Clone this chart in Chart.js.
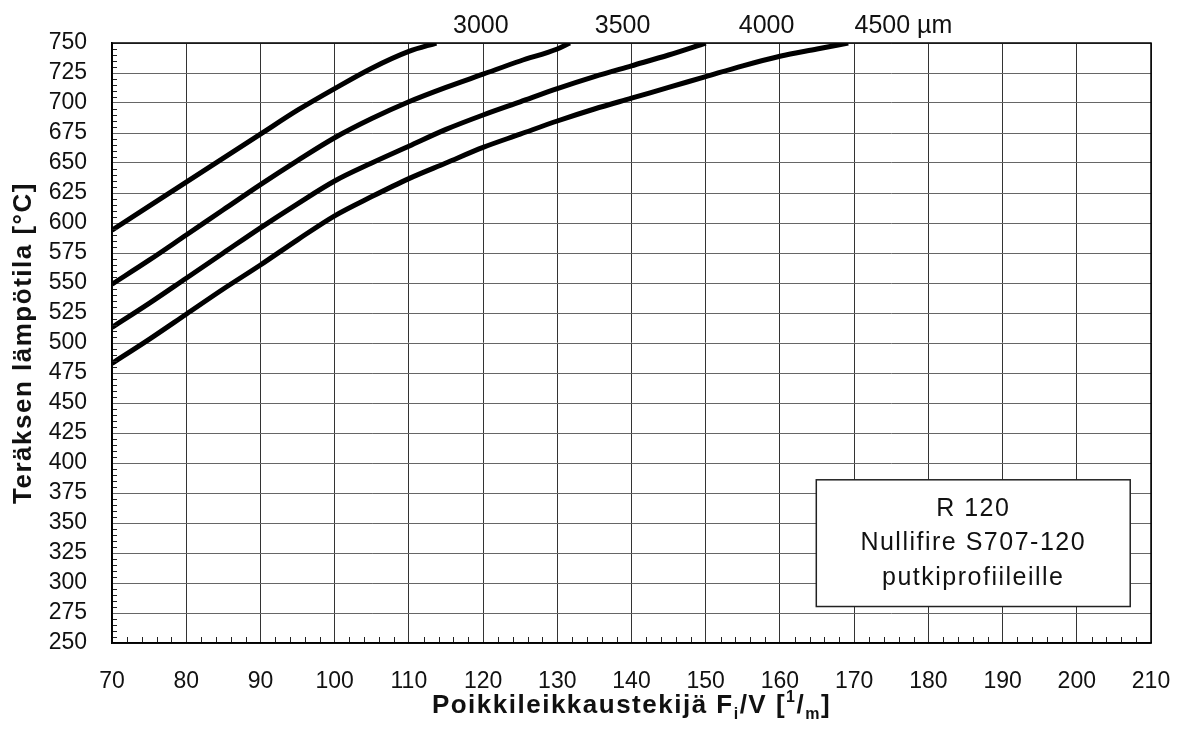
<!DOCTYPE html>
<html>
<head>
<meta charset="utf-8">
<script src="https://cdn.jsdelivr.net/npm/chart.js@4"></script>
<style>
  html, body { margin: 0; padding: 0; background: #fff; }
  #wrap { width: 1181px; height: 738px; }
</style>
</head>
<body>
<div id="wrap"><canvas id="chart" width="1181" height="738"></canvas></div>
<script>
// curve data: section factor (1/m) vs steel temperature (°C)
const fiV3000 = [70, 75, 80, 85, 90, 95, 100, 105, 110, 113.7];
const temp3000 = [594, 614, 634, 654, 674, 694, 712, 729, 743, 750];

const fiV3500 = [70, 75, 80, 85, 90, 95, 100, 105, 110, 115, 120, 125, 130, 131.7];
const temp3500 = [549, 569, 590, 611, 632, 652, 671, 687, 701, 713, 724, 735, 745, 750];

const fiV4000 = [70, 75, 80, 85, 90, 95, 100, 105, 110, 115, 120, 125, 130, 135, 140, 145, 150];
const temp4000 = [513, 533, 554, 575, 596, 616, 635, 650, 664, 678, 690, 701, 712, 722, 731, 740, 750];

const fiV4500 = [70, 75, 80, 85, 90, 95, 100, 105, 110, 115, 120, 125, 130, 135, 140, 145, 150, 155, 160, 165, 169.2];
const temp4500 = [483, 503, 524, 545, 565, 586, 606, 622, 637, 650, 663, 674, 685, 695, 704, 713, 722, 731, 739, 745, 750];

// thickness labels above the plot (centre of number, in Fi/V units)
const curveLabels = ["3000", "3500", "4000", "4500"];
const labelFiV = [119.7, 138.8, 158.2, 173.8];
const labelUnit = " µm";

// info box
const boxLines = ["R 120", "Nullifire S707-120", "putkiprofiileille"];
const boxFiV = [164.9, 207.2];
const boxTemp = [280.4, 386];

const xMin = 70, xMax = 210, xStep = 10, xMinor = 2;
const yMin = 250, yMax = 750, yStep = 25, yMinor = 5;

function zip(xs, ys) {
  return xs.map((x, i) => ({ x: x, y: ys[i] }));
}

function curve(xs, ys) {
  return {
    data: zip(xs, ys),
    borderColor: "#000",
    borderWidth: 5,
    pointRadius: 0,
    fill: false,
    cubicInterpolationMode: "monotone",
  };
}

const FONT = "'Liberation Sans', Arial, Helvetica, sans-serif";

const decorations = {
  id: "decorations",
  afterDraw(chart) {
    const ctx = chart.ctx;
    const xs = chart.scales.x;
    const ys = chart.scales.y;
    const area = chart.chartArea;
    ctx.save();

    // minor ticks
    ctx.strokeStyle = "#222";
    ctx.lineWidth = 1;
    ctx.beginPath();
    for (let v = xMin; v <= xMax; v += xMinor) {
      if (v % xStep === 0) continue;
      const px = Math.round(xs.getPixelForValue(v)) + 0.5;
      ctx.moveTo(px, area.bottom);
      ctx.lineTo(px, area.bottom - 6);
    }
    for (let v = yMin; v <= yMax; v += yMinor) {
      if (v % yStep === 0) continue;
      const py = Math.round(ys.getPixelForValue(v)) + 0.5;
      ctx.moveTo(area.left, py);
      ctx.lineTo(area.left + 5, py);
    }
    ctx.stroke();

    // frame
    ctx.strokeStyle = "#000";
    ctx.lineWidth = 1.5;
    ctx.strokeRect(area.left, area.top, area.right - area.left, area.bottom - area.top);

    // curve labels
    ctx.fillStyle = "#111";
    ctx.font = "25px " + FONT;
    ctx.textBaseline = "alphabetic";
    ctx.textAlign = "center";
    curveLabels.forEach((t, i) => {
      const px = xs.getPixelForValue(labelFiV[i]);
      ctx.fillText(t, px, 33);
      if (i === curveLabels.length - 1) {
        const w = ctx.measureText(t).width;
        ctx.textAlign = "left";
        ctx.fillText(labelUnit, px + w / 2, 33);
        ctx.textAlign = "center";
      }
    });

    // info box
    const bl = xs.getPixelForValue(boxFiV[0]);
    const br = xs.getPixelForValue(boxFiV[1]);
    const bt = ys.getPixelForValue(boxTemp[1]);
    const bb = ys.getPixelForValue(boxTemp[0]);
    ctx.fillStyle = "#fff";
    ctx.fillRect(bl, bt, br - bl, bb - bt);
    ctx.strokeStyle = "#222";
    ctx.lineWidth = 1.5;
    ctx.strokeRect(bl, bt, br - bl, bb - bt);
    ctx.fillStyle = "#111";
    ctx.font = "25px " + FONT;
    ctx.letterSpacing = "1.5px";
    ctx.textBaseline = "middle";
    const cx = (bl + br) / 2;
    const cy = (bt + bb) / 2;
    boxLines.forEach((t, i) => {
      ctx.fillText(t, cx, cy + (i - 1) * 34.5);
    });

    // y axis title
    ctx.save();
    ctx.translate(24, (area.top + area.bottom) / 2);
    ctx.rotate(-Math.PI / 2);
    ctx.font = "bold 26px " + FONT;
    ctx.letterSpacing = "1.5px";
    ctx.textAlign = "center";
    ctx.textBaseline = "middle";
    ctx.fillText("Teräksen lämpötila [°C]", 0, 0);
    ctx.restore();

    // x axis title with sub/superscripts
    const big = "bold 26px " + FONT;
    const small = "bold 16px " + FONT;
    const parts = [
      { t: "Poikkileikkaustekijä F", f: big, dy: 0 },
      { t: "i", f: small, dy: 6 },
      { t: "/V [", f: big, dy: 0 },
      { t: "1", f: small, dy: -11 },
      { t: "/", f: big, dy: 0 },
      { t: "m", f: small, dy: 6 },
      { t: "]", f: big, dy: 0 },
    ];
    ctx.letterSpacing = "1.5px";
    ctx.textAlign = "left";
    ctx.textBaseline = "alphabetic";
    let total = 0;
    parts.forEach((p) => {
      ctx.font = p.f;
      p.w = ctx.measureText(p.t).width;
      total += p.w;
    });
    let x = (area.left + area.right) / 2 - total / 2;
    parts.forEach((p) => {
      ctx.font = p.f;
      ctx.fillText(p.t, x, 713 + p.dy);
      x += p.w;
    });

    ctx.restore();
  },
};

const ctx = document.getElementById("chart").getContext("2d");
new Chart(ctx, {
  type: "line",
  data: {
    datasets: [
      curve(fiV3000, temp3000),
      curve(fiV3500, temp3500),
      curve(fiV4000, temp4000),
      curve(fiV4500, temp4500),
    ],
  },
  options: {
    responsive: false,
    animation: false,
    events: [],
    layout: { padding: { top: 43, right: 30, left: 0, bottom: 0 } },
    plugins: {
      legend: { display: false },
      tooltip: { enabled: false },
    },
    scales: {
      x: {
        type: "linear",
        min: xMin,
        max: xMax,
        afterFit(scale) {
          scale.height = 95;
          scale.paddingRight = 0;
          scale.paddingLeft = 0;
        },
        ticks: {
          stepSize: xStep,
          padding: 25,
          color: "#111",
          font: { family: FONT, size: 23 },
          maxRotation: 0,
          autoSkip: false,
        },
        grid: { color: "#333", lineWidth: 1, drawTicks: false },
        border: { color: "#000", width: 1.5 },
      },
      y: {
        type: "linear",
        min: yMin,
        max: yMax,
        afterFit(scale) {
          scale.width = 112;
          scale.paddingTop = 0;
          scale.paddingBottom = 0;
        },
        ticks: {
          stepSize: yStep,
          padding: 25,
          color: "#111",
          font: { family: FONT, size: 23 },
          autoSkip: false,
        },
        grid: { color: "#666", lineWidth: 1, drawTicks: false },
        border: { color: "#000", width: 1.5 },
      },
    },
  },
  plugins: [decorations],
});
</script>
</body>
</html>
